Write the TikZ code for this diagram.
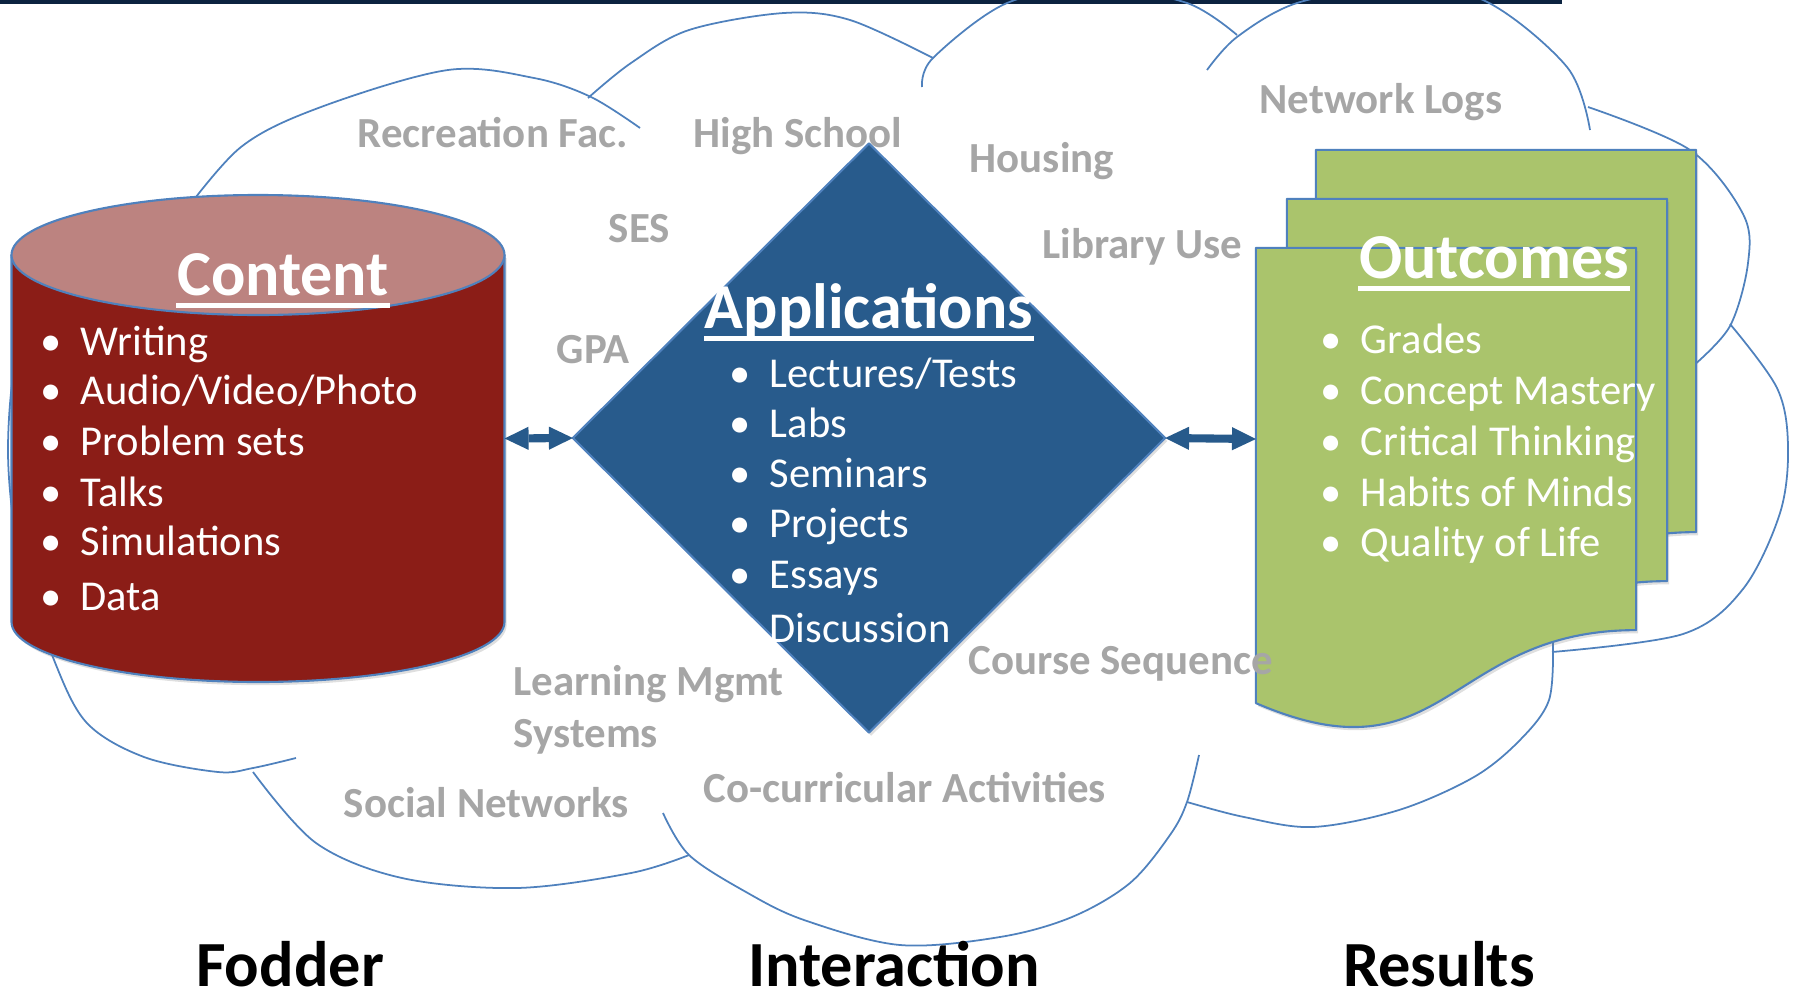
\documentclass[tikz,border=0pt]{standalone}
\usepackage{fontspec}
\setmainfont{Carlito}
\usetikzlibrary{shapes.geometric,arrows.meta,shadows,calc}

\begin{document}
\begin{tikzpicture}
		[x=0.01cm,y=-0.01cm,line join=round,
		%Styles
		cloud line/.style={draw=edgeblue,line width=0.5pt},
		hidden box/.style={inner sep=0pt,outer sep=0pt},
		app box/.style={diamond,fill=appblue,draw=edgeblue,line width=0.6pt,inner sep=0pt,outer sep=0pt,minimum width=5.92cm,minimum height=5.89cm,drop shadow={shadow xshift=0.6pt,shadow yshift=-0.9pt,opacity=0.25}},
		doc sheet/.style={fill=docgreen,draw=edgeblue,line width=0.6pt,drop shadow={shadow xshift=0.6pt,shadow yshift=-0.9pt,opacity=0.25}},
		title text/.style={text=white,font=\bfseries\fontsize{18.2}{22}\selectfont,anchor=base,inner sep=0pt},
		title line/.style={white,line width=1.4pt},
		item text/.style={text=white,font=\fontsize{12.1}{14}\selectfont,anchor=base west,inner sep=0pt},
		info text/.style={text=infogray,font=\bfseries\fontsize{12.2}{14}\selectfont,anchor=base west,inner sep=0pt},
		stage text/.style={font=\bfseries\fontsize{18.3}{22}\selectfont,anchor=base,inner sep=0pt},
		two way/.style={{Triangle[length=6.8pt,width=6.6pt,line width=0pt]}-{Triangle[length=6.8pt,width=6.6pt,line width=0pt]},draw=arrowblue,line width=2.3pt}
		]
		
		%Colors
		\definecolor{navybar}{RGB}{12,35,64}
		\definecolor{edgeblue}{RGB}{79,129,189}
		\definecolor{fodderred}{RGB}{139,29,23}
		\definecolor{foddertop}{RGB}{188,131,128}
		\definecolor{appblue}{RGB}{40,91,140}
		\definecolor{arrowblue}{RGB}{39,90,139}
		\definecolor{docgreen}{RGB}{170,196,108}
		\definecolor{infogray}{RGB}{166,166,166}
		
		\useasboundingbox (0,0) rectangle (1794,1003);
		\fill[navybar] (0,0) rectangle (1562,4);
		
		%The cloud
		\draw[cloud line] plot[smooth,tension=0.55] coordinates {(180,218) (241,147) (321,107) (448,70) (534,78) (591,97) (640,128)};
		\draw[cloud line] plot[smooth,tension=0.55] coordinates {(588,98) (631,63) (689,30) (784,13) (850,20) (933,58)};
		\draw[cloud line] plot[smooth,tension=0.55] coordinates {(922,87) (933,58) (1007,3) (1097,-12) (1187,3) (1237,35)};
		\draw[cloud line] plot[smooth,tension=0.55] coordinates {(1207,70) (1237,37) (1297,3) (1390,-12) (1483,0) (1567,67) (1590,130)};
		\draw[cloud line] plot[smooth,tension=0.55] coordinates {(1588,107) (1690,150) (1743,214) (1748,263) (1730,326) (1693,366)};
		\draw[cloud line] plot[smooth,tension=0.55] coordinates {(1730,324) (1777,388) (1788,446) (1780,513) (1743,589) (1683,634) (1552,652)};
		\draw[cloud line] plot[smooth,tension=0.55] coordinates {(1553,643) (1549,700) (1520,740) (1474,777) (1399,810) (1313,827) (1244,817) (1187,802)};
		\draw[cloud line] plot[smooth,tension=0.55] coordinates {(1199,755) (1187,802) (1170,835) (1130,883) (1072,917) (1000,937) (900,945) (804,920) (746,892) (689,855) (663,813)};
		\draw[cloud line] plot[smooth,tension=0.55] coordinates {(689,855) (631,873) (517,888) (402,878) (316,843) (253,772)};
		\draw[cloud line] plot[smooth,tension=0.55] coordinates {(296,758) (253,768) (218,772) (144,757) (86,722) (52,655) (20,560) (8,450) (20,340) (60,270)};
		
		%Fodder
		\node[hidden box,minimum width=4.93cm,minimum height=4.87cm] (content) at (258,438.5) {};
		\filldraw[fill=fodderred,draw=edgeblue,line width=0.6pt,drop shadow={shadow xshift=0.6pt,shadow yshift=-0.9pt,opacity=0.25}]
			(11.5,255) -- (11.5,622) .. controls (11.5,655) and (122,682) .. (258,682)
			.. controls (394,682) and (504.5,655) .. (504.5,622) -- (504.5,255) -- cycle;
		\filldraw[fill=foddertop,draw=edgeblue,line width=0.6pt] (258,255) ellipse [x radius=246.5,y radius=60];
		
		%Interaction
		\node[app box] (apps) at (869,438) {};
		
		%Results
		\node[hidden box,minimum width=3.8cm,minimum height=3.82cm] (docback) at (1506,341) {};
		\node[hidden box,minimum width=3.8cm,minimum height=3.82cm] (docmid) at (1477,390) {};
		\node[hidden box,minimum width=3.8cm,minimum height=3.82cm] (outcomes) at (1446,439) {};
		\filldraw[doc sheet] (docback.north west) -- (docback.north east) -- (docback.south east)
			.. controls +(-190,0) and +(190,82) .. ($(docback.south west)+(0,73)$) -- cycle;
		\filldraw[doc sheet] (docmid.north west) -- (docmid.north east) -- (docmid.south east)
			.. controls +(-190,0) and +(190,82) .. ($(docmid.south west)+(0,73)$) -- cycle;
		\filldraw[doc sheet] (outcomes.north west) -- (outcomes.north east) -- (outcomes.south east)
			.. controls +(-190,0) and +(190,82) .. ($(outcomes.south west)+(0,73)$) -- cycle;
		
		\draw[two way] (content.east) -- (apps.west);
		\draw[two way] (apps.east) -- (outcomes.west);
		
		%Titles
		\node[title text] (contenttitle) at (283,295) {Content};
		\node[title text] (appstitle) at (869,328) {Applications};
		\node[title text] (outtitle) at (1494,278) {Outcomes};
		\draw[title line] ([yshift=-3.1pt]contenttitle.base west) -- ([yshift=-3.1pt]contenttitle.base east);
		\draw[title line] ([yshift=-3.1pt]appstitle.base west) -- ([yshift=-3.1pt]appstitle.base east);
		\draw[title line] ([yshift=-3.1pt]outtitle.base west) -- ([yshift=-3.1pt]outtitle.base east);
		
		%Lists
		\node[item text] (cwriting) at (40,355) {\makebox[11.4pt][l]{\textbullet}Writing};
		\node[item text] (caudio) at (40,404) {\makebox[11.4pt][l]{\textbullet}Audio/Video/Photo};
		\node[item text] (cproblem) at (40,455) {\makebox[11.4pt][l]{\textbullet}Problem sets};
		\node[item text] (ctalks) at (40,506) {\makebox[11.4pt][l]{\textbullet}Talks};
		\node[item text] (csims) at (40,555) {\makebox[11.4pt][l]{\textbullet}Simulations};
		\node[item text] (cdata) at (40,610) {\makebox[11.4pt][l]{\textbullet}Data};
		
		\node[item text] (alectures) at (729,387) {\makebox[11.4pt][l]{\textbullet}Lectures/Tests};
		\node[item text] (alabs) at (729,437) {\makebox[11.4pt][l]{\textbullet}Labs};
		\node[item text] (aseminars) at (729,487) {\makebox[11.4pt][l]{\textbullet}Seminars};
		\node[item text] (aprojects) at (729,537) {\makebox[11.4pt][l]{\textbullet}Projects};
		\node[item text] (aessays) at (729,588) {\makebox[11.4pt][l]{\textbullet}Essays};
		\node[item text] (adiscussion) at (729,642) {\makebox[11.4pt][l]{}Discussion};
		
		\node[item text] (ogrades) at (1320,353) {\makebox[11.4pt][l]{\textbullet}Grades};
		\node[item text] (oconcept) at (1320,404) {\makebox[11.4pt][l]{\textbullet}Concept Mastery};
		\node[item text] (ocritical) at (1320,455) {\makebox[11.4pt][l]{\textbullet}Critical Thinking};
		\node[item text] (ohabits) at (1320,506) {\makebox[11.4pt][l]{\textbullet}Habits of Minds};
		\node[item text] (oquality) at (1320,556) {\makebox[11.4pt][l]{\textbullet}Quality of Life};
		
		%Data sources
		\node[info text] (recreation) at (357,147) {Recreation Fac.};
		\node[info text] (highschool) at (693,147) {High School};
		\node[info text] (ses) at (608,242) {SES};
		\node[info text] (gpa) at (556,363) {GPA};
		\node[info text] (housing) at (969,172) {Housing};
		\node[info text] (netlogs) at (1259,113) {Network Logs};
		\node[info text] (library) at (1042,258) {Library Use};
		\node[info text] (sequence) at (968,674) {Course Sequence};
		\node[info text] (lms) at (513,695) {Learning Mgmt};
		\node[info text] (lmssys) at (513,747) {Systems};
		\node[info text] (social) at (343,817) {Social Networks};
		\node[info text] (cocurric) at (703,802) {Co-curricular Activities};
		
		%Stages
		\node[stage text] (fodder) at (290,986) {Fodder};
		\node[stage text] (interaction) at (894,986) {Interaction};
		\node[stage text] (results) at (1439,986) {Results};
	\end{tikzpicture}
\end{document}
